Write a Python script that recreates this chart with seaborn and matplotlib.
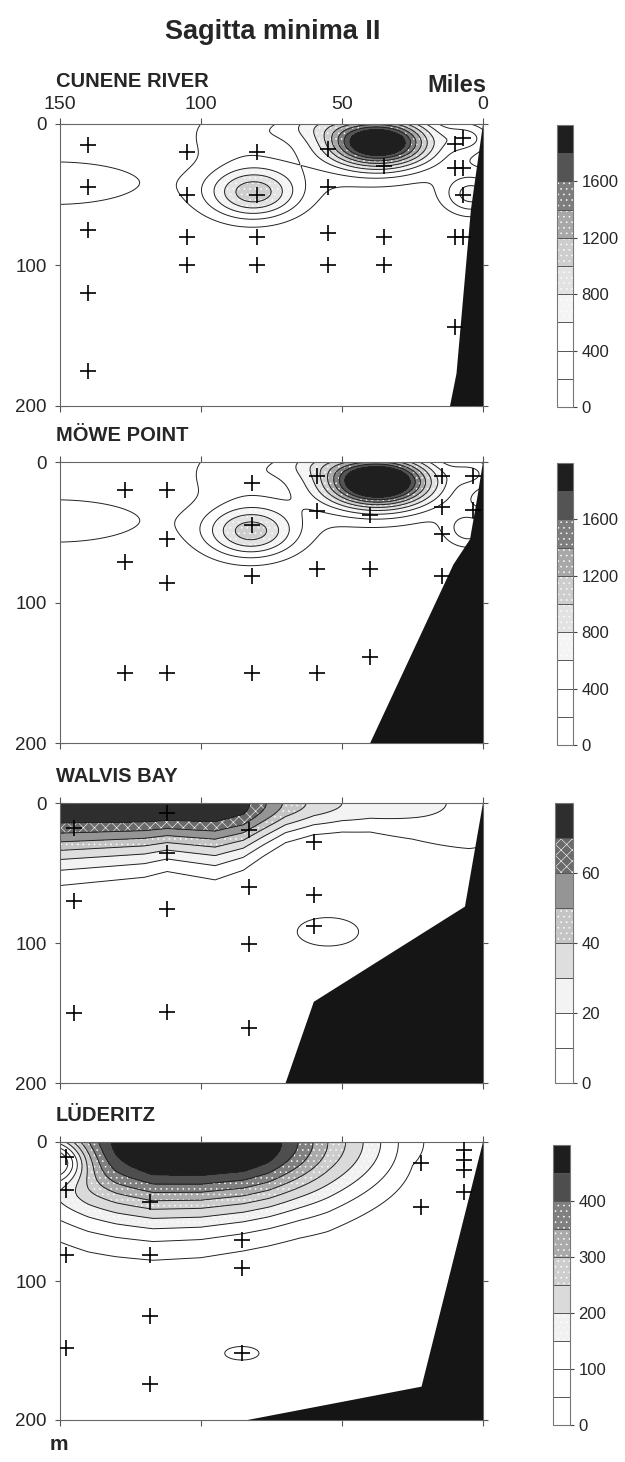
import numpy as np
import matplotlib
matplotlib.use('Agg')
import matplotlib.pyplot as plt
import seaborn as sns

W, H = 625, 1462

# ---------------- data ----------------
# station positions: distance offshore (miles) and depth (m)
cunene_st_mi = [140, 140, 140, 140, 140, 105, 105, 105, 105, 80, 80, 80, 80,
                55, 55, 55, 55, 35, 35, 35, 10, 10, 10, 10, 7, 7, 7, 7]
cunene_st_m = [15, 45, 75, 120, 175, 20, 50, 80, 100, 20, 50, 80, 100,
               18, 45, 77, 100, 30, 80, 100, 14, 31, 80, 144, 10, 31, 50, 80]

mowe_st_mi = [127, 112, 82, 59, 14.7, 3.4, 59, 40, 14.7, 3.4, 82, 112, 14.7,
              127, 112, 82, 59, 40, 14.7, 40, 127, 112, 82, 59]
mowe_st_m = [20, 20, 15, 10, 10, 10, 35, 38, 32, 34, 45, 55, 51,
             71, 86, 81, 76, 76, 81, 139, 150, 150, 150, 150]

walvis_st_mi = [145, 112, 83, 60, 112, 83, 60, 145, 112, 60, 83, 145, 112, 83]
walvis_st_m = [18, 7, 19, 28, 36, 60, 66, 70, 76, 88, 101, 150, 149, 161]

luderitz_st_mi = [148, 148, 118, 22, 22, 6.7, 6.7, 6.7, 6.7, 85.5, 85.5,
                  148, 118, 118, 148, 85.5, 118]
luderitz_st_m = [10.6, 34.5, 43, 15, 46.5, 6, 13, 20, 36, 70.5, 91,
                 81, 81, 125, 148, 152, 174]

# sea floor outline (miles, m)
cunene_shelf_mi = [0, 4.3, 9.4, 11.7, 0]
cunene_shelf_m = [0, 61, 177, 200, 200]
mowe_shelf_mi = [0, 2, 4.6, 10.5, 40, 0]
mowe_shelf_m = [0, 25, 55, 73, 200, 200]
walvis_shelf_mi = [0, 6.4, 60, 70, 0]
walvis_shelf_m = [0, 74, 142, 200, 200]
luderitz_shelf_mi = [0, 21.8, 83.5, 0]
luderitz_shelf_m = [0, 176, 200, 200]

# concentration patches: centre (miles, m), peak value, spread (miles, m)
cunene_blob_mi = [37, 60, 81, 85, 152, 4, 6, 45, 88]
cunene_blob_m = [13, 0, 49, 48, 42, 50, 10, 20, 5]
cunene_blob_val = [2100, 350, 880, 200, 330, 650, 350, 260, 280]
cunene_blob_wx = [12.5, 10, 11, 14, 28, 7, 5, 32, 12]
cunene_blob_wz = [12, 8, 12.5, 16, 15, 10, 6, 22, 14]

mowe_blob_mi = [37, 60, 82, 85, 152, 5, 4, 45, 88]
mowe_blob_m = [14, 0, 50, 48, 42, 48, 8, 20, 5]
mowe_blob_val = [2300, 350, 850, 200, 330, 480, 300, 260, 280]
mowe_blob_wx = [13, 10, 11, 14, 28, 6, 5, 32, 12]
mowe_blob_wz = [12.5, 8, 12.5, 16, 15, 9, 6, 22, 14]

# layered surface field: surface value and vertical scale along the section
walvis_surf_mi = [150, 120, 112, 95, 85, 78, 70, 60, 50, 40, 25, 13, 5, 0]
walvis_surf_val = [79, 80, 80, 79, 74, 62, 48, 37, 30, 26, 23, 20, 18, 16]
walvis_surf_scale = [29, 26, 24, 27, 24, 20, 16, 14, 14, 15, 20, 26, 30, 32]
walvis_blob_mi = [55]
walvis_blob_m = [92]
walvis_blob_val = [13]
walvis_blob_wx = [15]
walvis_blob_wz = [14]

luderitz_surf_mi = [150, 140, 130, 117, 100, 85, 76, 65, 55, 45, 35, 25, 15, 0]
luderitz_surf_val = [300, 390, 470, 540, 550, 535, 490, 395, 300, 220, 140, 60, 35, 20]
luderitz_surf_scale = [38, 39, 39, 39, 38, 36, 35, 34, 34, 32, 30, 28, 26, 25]
luderitz_blob_mi = [152, 85.5]
luderitz_blob_m = [14, 152]
luderitz_blob_val = [-300, 60]
luderitz_blob_wx = [8, 10]
luderitz_blob_wz = [11, 8]

# colour scales
cunene_levels = np.arange(0, 2001, 200)
walvis_levels = np.arange(0, 81, 10)
luderitz_levels = np.arange(0, 501, 50)
cunene_colors = ['#ffffff', '#ffffff', '#ffffff', '#f4f4f4', '#e2e2e2',
                 '#cdcdcd', '#a8a8a8', '#7e7e7e', '#545454', '#1f1f1f']
walvis_colors = ['#ffffff', '#ffffff', '#f3f3f3', '#dedede', '#c4c4c4',
                 '#959595', '#6a6a6a', '#2e2e2e']
luderitz_colors = ['#ffffff', '#ffffff', '#ffffff', '#f1f1f1', '#dadada',
                   '#cdcdcd', '#aaaaaa', '#808080', '#4e4e4e', '#1e1e1e']
cunene_hatches = [None, None, None, '...', '...', '...', '...', '...', None, None]
walvis_hatches = [None, None, None, None, '...', None, 'xxx', None]
luderitz_hatches = [None, None, None, '...', None, '...', '...', '...', None, None]

# ---------------- drawing ----------------
sns.set_theme(style='white')
plt.rcParams['font.family'] = ['Liberation Sans', 'DejaVu Sans']
plt.rcParams['hatch.color'] = '#8a8a8a'
plt.rcParams['hatch.linewidth'] = 0.4

xg = np.linspace(0, 150, 301)
zg = np.linspace(0, 200, 401)
X, Z = np.meshgrid(xg, zg)


def build_field(blobs, surf=None):
    F = np.zeros_like(X)
    if surf is not None:
        s_mi, s_val, s_scale = [np.asarray(a, float)[::-1] for a in surf]
        S = np.interp(X, s_mi, s_val)
        L = np.interp(X, s_mi, s_scale)
        F += S * np.exp(-0.5 * (Z / L) ** 2)
    for x0, z0, a, sx, sz in zip(*blobs):
        F += a * np.exp(-0.5 * (((X - x0) / sx) ** 2 + ((Z - z0) / sz) ** 2))
    return F


panels = [
    dict(name='CUNENE RIVER', st=(cunene_st_mi, cunene_st_m),
         shelf=(cunene_shelf_mi, cunene_shelf_m),
         blobs=(cunene_blob_mi, cunene_blob_m, cunene_blob_val, cunene_blob_wx, cunene_blob_wz),
         surf=None, levels=cunene_levels, colors=cunene_colors, hatches=cunene_hatches,
         ticks=[0, 400, 800, 1200, 1600], ax_px=(60, 124, 483, 406), cb_px=(557, 125, 573, 407)),
    dict(name='MÖWE POINT', st=(mowe_st_mi, mowe_st_m),
         shelf=(mowe_shelf_mi, mowe_shelf_m),
         blobs=(mowe_blob_mi, mowe_blob_m, mowe_blob_val, mowe_blob_wx, mowe_blob_wz),
         surf=None, levels=cunene_levels, colors=cunene_colors, hatches=cunene_hatches,
         ticks=[0, 400, 800, 1200, 1600], ax_px=(60, 462, 483, 743), cb_px=(557, 463, 573, 745)),
    dict(name='WALVIS BAY', st=(walvis_st_mi, walvis_st_m),
         shelf=(walvis_shelf_mi, walvis_shelf_m),
         blobs=(walvis_blob_mi, walvis_blob_m, walvis_blob_val, walvis_blob_wx, walvis_blob_wz),
         surf=(walvis_surf_mi, walvis_surf_val, walvis_surf_scale),
         levels=walvis_levels, colors=walvis_colors, hatches=walvis_hatches,
         ticks=[0, 20, 40, 60], ax_px=(60, 803, 483, 1083), cb_px=(555, 803, 573, 1083)),
    dict(name='LÜDERITZ', st=(luderitz_st_mi, luderitz_st_m),
         shelf=(luderitz_shelf_mi, luderitz_shelf_m),
         blobs=(luderitz_blob_mi, luderitz_blob_m, luderitz_blob_val, luderitz_blob_wx, luderitz_blob_wz),
         surf=(luderitz_surf_mi, luderitz_surf_val, luderitz_surf_scale),
         levels=luderitz_levels, colors=luderitz_colors, hatches=luderitz_hatches,
         ticks=[0, 100, 200, 300, 400], ax_px=(60, 1142, 483, 1420), cb_px=(553, 1145, 570, 1425)),
]


def box(x0, y0, x1, y1):
    return [x0 / W, 1 - y1 / H, (x1 - x0) / W, (y1 - y0) / H]


fig = plt.figure(figsize=(W / 100, H / 100), dpi=100)

for i, p in enumerate(panels):
    ax = fig.add_axes(box(*p['ax_px']))
    lev = p['levels']
    F = build_field(p['blobs'], p['surf'])
    F = np.clip(F, 0, lev[-1] * 0.999)
    cf = ax.contourf(X, Z, F, levels=lev, colors=p['colors'], hatches=p['hatches'], zorder=1)
    ax.contour(X, Z, F, levels=lev[1:-1], colors='#222222', linewidths=0.7, zorder=2)
    ax.fill(p['shelf'][0], p['shelf'][1], color='#151515', zorder=3, lw=0)
    sns.scatterplot(x=p['st'][0], y=p['st'][1], marker='+', s=120, color='black',
                    linewidth=1.2, ax=ax, zorder=5, legend=False)
    ax.set_xlim(150, 0)
    ax.set_ylim(200, 0)
    ax.set_xlabel('')
    ax.set_ylabel('')
    ax.set_xticks([150, 100, 50, 0])
    ax.set_yticks([0, 100, 200])
    ax.tick_params(axis='x', top=True, bottom=True, direction='out', length=4,
                   width=0.8, color='#555555', labelbottom=False, labeltop=(i == 0),
                   labelsize=14, pad=4)
    ax.tick_params(axis='y', left=True, right=True, direction='inout', length=7,
                   width=0.8, color='#555555', labelsize=13.5, pad=6)
    for sp in ax.spines.values():
        sp.set_color('#666666')
        sp.set_linewidth(0.8)

    cax = fig.add_axes(box(*p['cb_px']))
    cb = fig.colorbar(cf, cax=cax, ticks=p['ticks'], drawedges=True)
    cb.outline.set_edgecolor('#777777')
    cb.outline.set_linewidth(0.8)
    cb.dividers.set_color('#555555')
    cb.dividers.set_linewidth(0.7)
    cax.tick_params(labelsize=12, length=3, width=0.8, color='#444444', pad=3, right=True)

    ax_top = p['ax_px'][1]
    base = ax_top - 37 if i == 0 else ax_top - 21
    fig.text(56 / W, 1 - base / H, p['name'], ha='left', va='baseline',
             fontsize=14.5, fontweight='bold')

fig.text(273 / W, 1 - 39 / H, 'Sagitta minima II', ha='center', va='baseline',
         fontsize=19.5, fontweight='bold')
fig.text(486 / W, 1 - 92 / H, 'Miles', ha='right', va='baseline',
         fontsize=17, fontweight='bold')
fig.text(50 / W, 1 - 1450 / H, 'm', ha='left', va='baseline',
         fontsize=15, fontweight='bold')

fig.savefig('out.png', dpi=100, facecolor='white')
